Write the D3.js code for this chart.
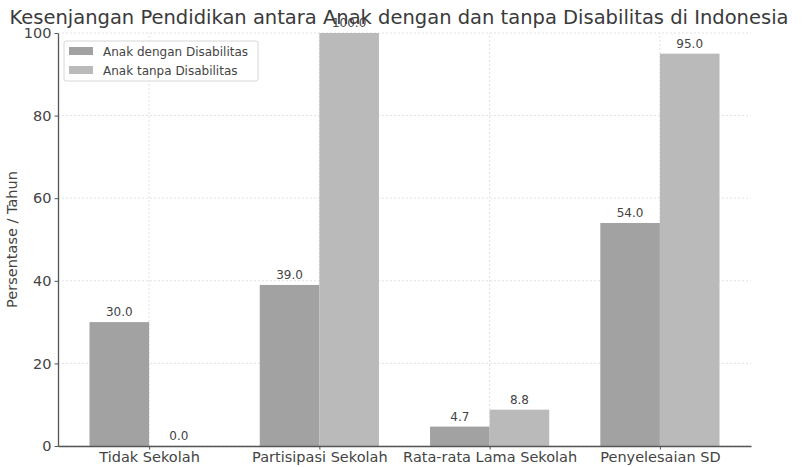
<!DOCTYPE html>
<html lang="en">
  <head>
    <meta charset="UTF-8" />
    <title>Kesenjangan Pendidikan</title>
    <style type="text/css">
      body {
        margin: 0;
        background: #ffffff;
        font-family: "DejaVu Sans", sans-serif;
      }
      svg {
        display: block;
      }
      .grid line {
        stroke: #d9d9d9;
        stroke-dasharray: 2, 2;
        stroke-width: 0.8;
      }
      .axis path,
      .axis line {
        stroke: #555555;
      }
      .axis text {
        fill: #444444;
        font-size: 14.5px;
        font-family: "DejaVu Sans", sans-serif;
      }
      .value-label {
        fill: #444444;
        font-size: 12px;
      }
    </style>
  </head>
  <body>
    <script src="https://d3js.org/d3.v7.min.js"></script>
    <script>
      var categories = ["Tidak Sekolah", "Partisipasi Sekolah", "Rata-rata Lama Sekolah", "Penyelesaian SD"];
      var seriesNames = ["Anak dengan Disabilitas", "Anak tanpa Disabilitas"];
      var withDisability = [30.0, 39.0, 4.7, 54.0];
      var withoutDisability = [0.0, 100.0, 8.8, 95.0];
      var yTicks = [0, 20, 40, 60, 80, 100];

      var width = 803;
      var height = 467;
      var margin = { top: 33, right: 52, bottom: 21, left: 58 };
      var barWidth = 0.35;

      var svg = d3
        .select("body")
        .append("svg")
        .attr("width", width)
        .attr("height", height);

      var x = d3
        .scaleLinear()
        .domain([-0.535, categories.length - 1 + 0.535])
        .range([margin.left, width - margin.right]);
      var y = d3
        .scaleLinear()
        .domain([0, 100])
        .range([height - margin.bottom, margin.top]);
      var color = d3
        .scaleOrdinal()
        .domain(seriesNames)
        .range(["#a2a2a2", "#bababa"]);

      // grid
      var grid = svg.append("g").attr("class", "grid");
      grid
        .selectAll(".hgrid")
        .data(yTicks)
        .join("line")
        .attr("x1", margin.left)
        .attr("x2", width - margin.right)
        .attr("y1", (d) => y(d))
        .attr("y2", (d) => y(d));
      grid
        .selectAll(".vgrid")
        .data(categories)
        .join("line")
        .attr("x1", (d, i) => x(i))
        .attr("x2", (d, i) => x(i))
        .attr("y1", y(0))
        .attr("y2", y(100));

      var series = [
        { name: seriesNames[0], values: withDisability, offset: -barWidth },
        { name: seriesNames[1], values: withoutDisability, offset: 0 },
      ];

      var bars = svg.append("g").attr("class", "bars");
      series.forEach((s) => {
        bars
          .append("g")
          .attr("fill", color(s.name))
          .selectAll("rect")
          .data(s.values)
          .join("rect")
          .attr("x", (d, i) => x(i + s.offset))
          .attr("width", (d, i) => x(i + s.offset + barWidth) - x(i + s.offset))
          .attr("y", (d) => y(d))
          .attr("height", (d) => y(0) - y(d));

        svg
          .append("g")
          .selectAll("text")
          .data(s.values)
          .join("text")
          .attr("class", "value-label")
          .attr("text-anchor", "middle")
          .attr("x", (d, i) => x(i + s.offset + barWidth / 2))
          .attr("y", (d) => y(d) - 6)
          .text((d) => d.toFixed(1));
      });

      // axes
      var xAxis = svg
        .append("g")
        .attr("class", "axis")
        .attr("transform", `translate(0,${y(0)})`)
        .call(
          d3
            .axisBottom(x)
            .tickValues(d3.range(categories.length))
            .tickFormat((d) => categories[d])
            .tickSize(3.5)
            .tickSizeOuter(0)
        );
      xAxis.select(".domain").attr("stroke-width", 1.3);
      xAxis.selectAll("text").attr("y", 4).attr("dy", "0.8em");

      var yAxis = svg
        .append("g")
        .attr("class", "axis")
        .attr("transform", `translate(${margin.left},0)`)
        .call(d3.axisLeft(y).tickValues(yTicks).tickSize(3.5).tickSizeOuter(0));
      yAxis.select(".domain").attr("stroke-width", 1.3);

      svg
        .append("text")
        .attr("transform", `translate(17,${(y(0) + y(100)) / 2 + 0}) rotate(-90)`)
        .attr("text-anchor", "middle")
        .attr("fill", "#444444")
        .attr("font-size", "14.5px")
        .text("Persentase / Tahun");

      svg
        .append("text")
        .attr("x", 399)
        .attr("y", 24)
        .attr("text-anchor", "middle")
        .attr("fill", "#3a3a3a")
        .attr("font-size", "19.5px")
        .text("Kesenjangan Pendidikan antara Anak dengan dan tanpa Disabilitas di Indonesia");

      // legend
      var legend = svg.append("g").attr("transform", "translate(64,41)");
      legend
        .append("rect")
        .attr("width", 194)
        .attr("height", 40)
        .attr("rx", 2)
        .attr("fill", "rgba(255,255,255,0.8)")
        .attr("stroke", "#d6d6d6");
      var legendItem = legend
        .selectAll(".legend-item")
        .data(seriesNames)
        .join("g")
        .attr("class", "legend-item")
        .attr("transform", (d, i) => `translate(5,${6 + i * 19})`);
      legendItem
        .append("rect")
        .attr("width", 24)
        .attr("height", 8)
        .attr("fill", (d) => color(d));
      legendItem
        .append("text")
        .attr("x", 34)
        .attr("y", 8.5)
        .attr("fill", "#444444")
        .attr("font-size", "12px")
        .text((d) => d);
    </script>
  </body>
</html>
